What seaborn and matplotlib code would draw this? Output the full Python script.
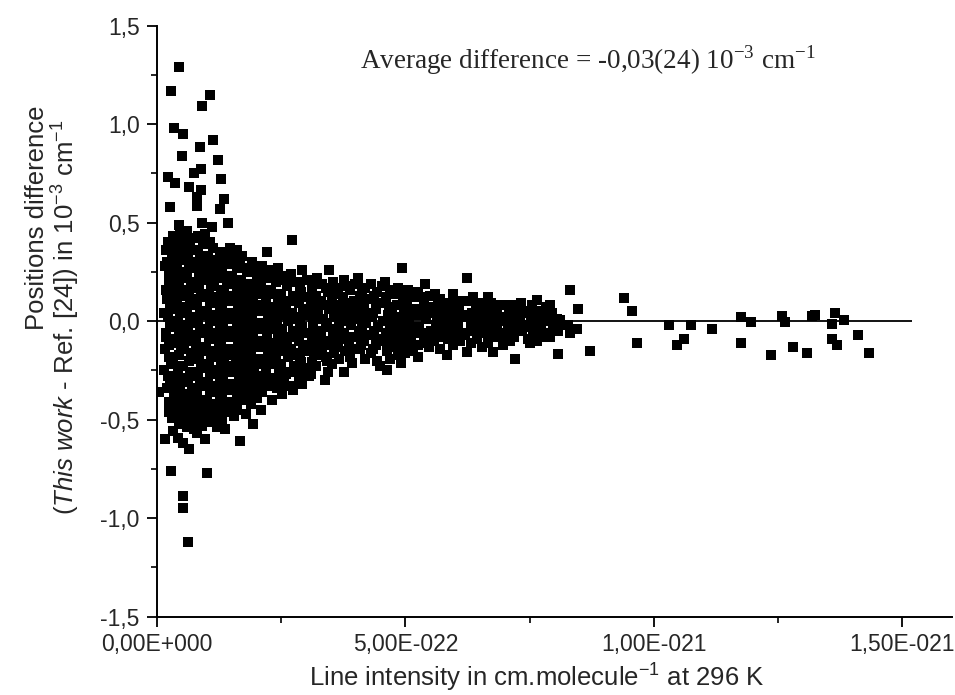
import numpy as np
import pandas as pd
import matplotlib
matplotlib.use("Agg")
import matplotlib.pyplot as plt
import seaborn as sns
from matplotlib.ticker import FixedLocator, FixedFormatter, MultipleLocator

# ---- data (line intensity in units of 1e-22 cm/molecule, position difference in 1e-3 cm-1) ----
hi_x = [0.45, 0.29, 1.07, 0.91, 0.34, 0.53, 1.12, 0.87, 0.50, 1.23, 0.88, 0.74, 0.23, 1.29, 0.36,
        0.65, 0.88, 0.81, 1.35, 0.26, 0.80, 1.27, 1.42, 0.45, 0.60, 0.90, 1.10, 0.83, 0.96, 0.61,
        1.47, 1.62, 2.21]
hi_y = [1.29, 1.17, 1.15, 1.09, 0.98, 0.95, 0.92, 0.885, 0.84, 0.82, 0.77, 0.75, 0.73, 0.72, 0.70,
        0.68, 0.665, 0.63, 0.62, 0.58, 0.585, 0.57, 0.50, 0.49, 0.46, 0.50, 0.48, 0.43, 0.44, 0.37,
        0.37, 0.36, 0.35]

lo_x = [0.16, 0.43, 0.53, 0.64, 0.97, 1.37, 1.67, 1.94, 0.28, 1.01, 0.53, 0.53, 0.62, 0.04, 0.25,
        0.45, 0.60, 0.75, 0.90, 1.05, 1.20, 1.30]
lo_y = [-0.60, -0.595, -0.62, -0.65, -0.60, -0.55, -0.61, -0.52, -0.76, -0.77, -0.89, -0.95, -1.12,
        -0.36, -0.41, -0.52, -0.54, -0.55, -0.53, -0.51, -0.54, -0.50]

core_x = [
    0.16, 0.18, 0.15, 0.19, 0.17, 0.14, 0.18,
    0.22, 0.20, 0.24, 0.21, 0.23, 0.19, 0.25, 0.22, 0.20, 0.24,
    0.32, 0.30, 0.34, 0.31, 0.33, 0.29, 0.35, 0.32, 0.30, 0.34, 0.31, 0.33,
    0.42, 0.40, 0.44, 0.41, 0.43, 0.39, 0.45, 0.42, 0.40, 0.44,
    0.52, 0.50, 0.54, 0.51, 0.53, 0.49, 0.55, 0.52, 0.50, 0.54, 0.51,
    0.62, 0.60, 0.64, 0.61, 0.63, 0.59, 0.65, 0.62, 0.60, 0.64, 0.61,
    0.72, 0.70, 0.74, 0.71, 0.73, 0.69, 0.75, 0.72, 0.70, 0.74, 0.71,
    0.82, 0.80, 0.84, 0.81, 0.83, 0.79, 0.85, 0.82, 0.80, 0.84, 0.81,
    0.92, 0.90, 0.94, 0.91, 0.93, 0.89, 0.95, 0.92, 0.90, 0.94, 0.91,
    1.02, 1.00, 1.04, 1.01, 1.03, 0.99, 1.05, 1.02, 1.00, 1.04,
    1.12, 1.10, 1.14, 1.11, 1.13, 1.09, 1.15, 1.12, 1.10, 1.14,
    1.22, 1.20, 1.24, 1.21, 1.23, 1.19, 1.25, 1.22, 1.20, 1.24,
    1.32, 1.30, 1.34, 1.31, 1.33, 1.29, 1.35, 1.32, 1.30, 1.34,
    1.42, 1.40, 1.44, 1.41, 1.43, 1.39, 1.45, 1.42, 1.40,
    1.52, 1.50, 1.54, 1.51, 1.53, 1.49, 1.55, 1.52, 1.50, 1.54,
    1.62, 1.60, 1.64, 1.61, 1.63, 1.59, 1.65, 1.62, 1.60,
    1.72, 1.70, 1.74, 1.71, 1.73, 1.69, 1.75, 1.72, 1.70,
    1.82, 1.80, 1.84, 1.81, 1.83, 1.79, 1.85, 1.82, 1.80,
    1.92, 1.90, 1.94, 1.91, 1.93, 1.89, 1.95, 1.92, 1.90,
    2.02, 2.00, 2.04, 2.01, 2.03, 1.99, 2.05, 2.02,
    2.12, 2.10, 2.14, 2.11, 2.13, 2.09, 2.15, 2.12, 2.10,
    2.22, 2.20, 2.24, 2.21, 2.23, 2.19, 2.25,
    2.32, 2.30, 2.34, 2.31, 2.33, 2.29, 2.35, 2.31,
    2.43, 2.40, 2.44, 2.41, 2.43, 2.39, 2.45, 2.42,
    2.52, 2.50, 2.54, 2.51, 2.53, 2.49, 2.55, 2.52,
    2.62, 2.60, 2.64, 2.61, 2.63, 2.59, 2.65,
    2.71, 2.70, 2.74, 2.71, 2.73, 2.69, 2.75, 2.74,
    2.82, 2.80, 2.84, 2.81, 2.83, 2.79, 2.85,
    2.91, 2.90, 2.94, 2.91, 2.93, 2.89, 2.91,
    3.02, 3.00, 3.04, 3.01, 3.03, 2.99, 3.05,
]
core_y = [
    0.28, 0.16, 0.04, -0.06, -0.14, -0.25, 0.36,
    0.40, 0.30, 0.20, 0.11, 0.02, -0.08, -0.18, -0.28, -0.34, -0.46,
    0.43, 0.34, 0.24, 0.14, 0.06, -0.03, -0.11, -0.21, -0.31, -0.39, -0.49, -0.56,
    0.38, 0.29, 0.19, 0.09, 0.00, -0.09, -0.17, -0.26, -0.36, -0.44,
    0.41, 0.31, 0.22, 0.13, 0.04, -0.05, -0.14, -0.23, -0.31, -0.40, -0.48,
    0.33, 0.25, 0.16, 0.07, -0.02, -0.10, -0.20, -0.29, -0.37, -0.45, -0.53,
    0.42, 0.30, 0.20, 0.11, 0.02, -0.07, -0.16, -0.26, -0.34, -0.43, -0.50,
    0.36, 0.27, 0.17, 0.08, -0.01, -0.11, -0.19, -0.28, -0.38, -0.46, -0.57,
    0.39, 0.29, 0.21, 0.12, 0.03, -0.06, -0.15, -0.24, -0.33, -0.41, -0.49,
    0.33, 0.24, 0.14, 0.05, -0.04, -0.13, -0.22, -0.31, -0.40, -0.47,
    0.37, 0.27, 0.18, 0.09, 0.00, -0.09, -0.18, -0.27, -0.35, -0.44,
    0.31, 0.22, 0.12, 0.03, -0.06, -0.15, -0.25, -0.33, -0.42, -0.49,
    0.35, 0.26, 0.16, 0.07, -0.02, -0.11, -0.20, -0.29, -0.38, -0.46,
    0.29, 0.19, 0.10, 0.01, -0.08, -0.17, -0.26, -0.35, -0.43,
    0.32, 0.23, 0.13, 0.04, -0.05, -0.14, -0.23, -0.32, -0.41, -0.48,
    0.27, 0.17, 0.08, -0.01, -0.10, -0.19, -0.28, -0.37, -0.45,
    0.33, 0.21, 0.12, 0.03, -0.06, -0.15, -0.24, -0.33, -0.40,
    0.25, 0.15, 0.06, -0.03, -0.12, -0.21, -0.30, -0.38, -0.47,
    0.30, 0.19, 0.10, 0.01, -0.08, -0.17, -0.26, -0.35, -0.42,
    0.23, 0.14, 0.05, -0.04, -0.13, -0.22, -0.31, -0.39,
    0.28, 0.18, 0.08, -0.01, -0.10, -0.19, -0.28, -0.36, -0.45,
    0.22, 0.12, 0.03, -0.06, -0.15, -0.24, -0.33,
    0.26, 0.16, 0.07, -0.02, -0.11, -0.20, -0.29, -0.40,
    0.27, 0.20, 0.10, 0.01, -0.08, -0.17, -0.26, -0.34,
    0.23, 0.14, 0.05, -0.04, -0.13, -0.22, -0.30, -0.37,
    0.18, 0.09, 0.00, -0.09, -0.18, -0.27, -0.33,
    0.41, 0.24, 0.13, 0.04, -0.05, -0.14, -0.23, -0.35,
    0.20, 0.11, 0.02, -0.07, -0.16, -0.25, -0.31,
    0.26, 0.15, 0.06, -0.03, -0.12, -0.21, -0.32,
    0.21, 0.12, 0.03, -0.06, -0.15, -0.24, -0.28,
]

fill_x = [
    0.27, 0.25, 0.28, 0.26, 0.27, 0.25, 0.28, 0.26, 0.27,
    0.47, 0.45, 0.48, 0.46, 0.47, 0.45, 0.48, 0.46, 0.47, 0.45, 0.48,
    0.67, 0.65, 0.68, 0.66, 0.67, 0.65, 0.68, 0.66, 0.67, 0.65,
    0.87, 0.85, 0.88, 0.86, 0.87, 0.85, 0.88, 0.86, 0.87, 0.85,
    1.07, 1.05, 1.08, 1.06, 1.07, 1.05, 1.08, 1.06, 1.07, 1.05,
    1.27, 1.25, 1.28, 1.26, 1.27, 1.25, 1.28, 1.26, 1.27,
    1.47, 1.45, 1.48, 1.46, 1.47, 1.45, 1.48, 1.46, 1.47,
    1.67, 1.65, 1.68, 1.66, 1.67, 1.65, 1.68, 1.66,
    1.87, 1.85, 1.88, 1.86, 1.87, 1.85, 1.88, 1.86,
    2.07, 2.05, 2.08, 2.06, 2.07, 2.05, 2.08,
    2.27, 2.25, 2.28, 2.26, 2.27, 2.25, 2.28,
    2.47, 2.45, 2.48, 2.46, 2.47, 2.45, 2.48,
    2.67, 2.65, 2.68, 2.66, 2.67, 2.65,
    2.87, 2.85, 2.88, 2.86, 2.87, 2.85,
    3.17, 3.15, 3.18, 3.16,
    3.40, 3.38, 3.41, 3.39, 3.40,
    3.60, 3.58, 3.61, 3.59,
    3.83, 3.81, 3.84, 3.82,
    4.12, 4.10, 4.13, 4.11,
    4.36, 4.34, 4.37, 4.35,
    4.68, 4.66, 4.69, 4.67, 4.68,
    5.00, 4.98, 5.01, 4.99,
    5.32, 5.30, 5.33,
    5.65, 5.63, 5.66,
    6.00, 5.98, 6.01,
    6.36, 6.34, 6.37,
    6.72, 6.70, 6.73,
    7.14, 7.12, 7.15,
    7.50, 7.48, 7.51,
    7.90, 7.88, 7.91,
]
fill_y = [
    0.36, 0.25, 0.16, 0.07, -0.02, -0.12, -0.22, -0.32, -0.43,
    0.44, 0.34, 0.24, 0.15, 0.05, -0.05, -0.14, -0.23, -0.32, -0.41, -0.50,
    0.38, 0.28, 0.19, 0.09, 0.00, -0.10, -0.19, -0.28, -0.38, -0.47,
    0.32, 0.22, 0.13, 0.04, -0.05, -0.15, -0.24, -0.33, -0.42, -0.51,
    0.40, 0.29, 0.19, 0.10, 0.01, -0.09, -0.18, -0.27, -0.36, -0.45,
    0.34, 0.24, 0.15, 0.06, -0.04, -0.13, -0.22, -0.31, -0.40,
    0.30, 0.21, 0.11, 0.02, -0.07, -0.16, -0.25, -0.34, -0.44,
    0.28, 0.19, 0.10, 0.00, -0.09, -0.18, -0.27, -0.36,
    0.27, 0.17, 0.08, -0.02, -0.11, -0.20, -0.29, -0.40,
    0.25, 0.16, 0.06, -0.03, -0.12, -0.21, -0.30,
    0.24, 0.14, 0.05, -0.04, -0.13, -0.22, -0.31,
    0.21, 0.12, 0.03, -0.06, -0.15, -0.24, -0.32,
    0.20, 0.10, 0.01, -0.08, -0.17, -0.26,
    0.18, 0.09, -0.01, -0.10, -0.19, -0.27,
    0.13, 0.03, -0.06, -0.16,
    0.17, 0.08, -0.01, -0.10, -0.18,
    0.14, 0.05, -0.04, -0.13,
    0.18, 0.09, 0.00, -0.09,
    0.15, 0.06, -0.03, -0.12,
    0.13, 0.04, -0.05, -0.14,
    0.16, 0.07, -0.02, -0.11, -0.19,
    0.11, 0.02, -0.07, -0.16,
    0.12, 0.03, -0.06,
    0.09, 0.00, -0.08,
    0.10, 0.01, -0.07,
    0.12, 0.04, -0.05,
    0.09, 0.00, -0.08,
    0.08, 0.01, -0.06,
    0.05, -0.02, -0.11,
    0.08, 0.01, -0.08,
]

gap_x = [3.27, 3.50, 3.71, 3.93, 4.24, 4.47, 4.80, 5.11, 5.44, 5.77, 6.13, 6.48, 6.84, 7.27, 7.70,
         3.28, 3.51, 3.72, 3.94, 4.25, 4.48, 4.81, 5.12, 5.45, 5.78, 6.14, 6.49, 6.85, 7.28, 7.69]
gap_y = [0.08, 0.06, 0.04, 0.05, 0.03, 0.09, 0.02, 0.05, 0.06, 0.04, 0.03, 0.05, 0.03, 0.04, 0.02,
         -0.12, -0.11, -0.06, -0.14, -0.07, -0.10, -0.06, -0.09, -0.11, -0.04, -0.06, -0.03, -0.05,
         -0.02, -0.05]

band_x = [
    3.12, 3.10, 3.14, 3.11, 3.11, 3.09,
    3.22, 3.20, 3.24, 3.21, 3.23, 3.19,
    3.32, 3.30, 3.34, 3.31, 3.33, 3.38,
    3.46, 3.44, 3.47, 3.43, 3.46, 3.42, 3.45,
    3.55, 3.53, 3.57, 3.54, 3.56, 3.52,
    3.65, 3.63, 3.67, 3.64, 3.66,
    3.77, 3.75, 3.79, 3.76, 3.78, 3.77,
    3.88, 3.86, 3.90, 3.87, 3.89,
    3.98, 3.96, 4.00, 3.97, 3.93,
    4.05, 4.08, 4.10, 4.07, 4.09,
    4.18, 4.16, 4.20, 4.17, 4.19,
    4.30, 4.28, 4.32, 4.29, 4.31,
    4.42, 4.40, 4.44, 4.41, 4.43,
    4.52, 4.50, 4.54, 4.51, 4.49,
    4.59, 4.60, 4.64, 4.61, 4.63, 4.62,
    4.75, 4.73, 4.77, 4.74,
    4.85, 4.83, 4.87, 4.84, 4.86,
    4.94, 4.95, 4.97, 4.93, 4.96, 4.92,
    5.06, 5.04, 5.08, 5.05,
    5.16, 5.14, 5.18, 5.15,
    5.26, 5.24, 5.28, 5.25, 5.26,
    5.39, 5.37, 5.41, 5.38,
    5.49, 5.47, 5.51, 5.48,
    5.59, 5.57, 5.61, 5.58,
    5.70, 5.68, 5.72, 5.69,
    5.83, 5.81, 5.85, 5.83,
    5.96, 5.94, 5.98, 5.95,
    6.07, 6.05, 6.09,
    6.24, 6.20, 6.22, 6.19, 6.23,
    6.30, 6.32, 6.31,
    6.42, 6.40, 6.44,
    6.55, 6.53, 6.57, 6.54,
    6.67, 6.65, 6.69, 6.66,
    6.77, 6.79, 6.77,
    6.88, 6.86, 6.90,
    6.97, 7.00, 6.98, 6.96,
    7.08, 7.06, 7.10,
    7.20, 7.22, 7.19, 7.21,
    7.32, 7.30, 7.34,
    7.44, 7.42, 7.46,
    7.55, 7.53, 7.57,
    7.64, 7.66, 7.62, 7.65,
    7.75, 7.73, 7.77,
    7.83, 7.85, 7.86,
    7.95, 7.97,
    8.04, 8.06, 8.06,
    8.11, 8.13,
]
band_y = [
    0.17, 0.08, -0.01, -0.10, -0.21, -0.27,
    0.22, 0.13, 0.04, -0.05, -0.14, -0.23,
    0.19, 0.10, 0.01, -0.08, -0.17, -0.30,
    0.26, 0.15, 0.06, -0.03, -0.12, -0.20, -0.26,
    0.20, 0.11, 0.02, -0.07, -0.16, -0.22,
    0.17, 0.08, -0.01, -0.10, -0.19,
    0.21, 0.12, 0.03, -0.06, -0.15, -0.26,
    0.16, 0.07, -0.02, -0.11, -0.18,
    0.19, 0.10, 0.01, -0.08, -0.215,
    0.22, 0.13, 0.04, -0.05, -0.14,
    0.17, 0.08, -0.01, -0.10, -0.19,
    0.19, 0.11, 0.02, -0.07, -0.16,
    0.15, 0.06, -0.03, -0.12, -0.20,
    0.18, 0.09, 0.00, -0.09, -0.23,
    0.20, 0.12, 0.03, -0.06, -0.15, -0.25,
    0.14, 0.05, -0.04, -0.13,
    0.17, 0.08, -0.01, -0.10, -0.17,
    0.27, 0.13, 0.04, -0.05, -0.14, -0.215,
    0.16, 0.07, -0.02, -0.11,
    0.12, 0.03, -0.06, -0.15,
    0.15, 0.06, -0.03, -0.12, -0.18,
    0.19, 0.10, 0.01, -0.08,
    0.13, 0.04, -0.05, -0.13,
    0.14, 0.07, -0.02, -0.10,
    0.11, 0.02, -0.07, -0.14,
    0.09, 0.00, -0.09, -0.17,
    0.14, 0.05, -0.04, -0.12,
    0.08, -0.01, -0.10,
    0.22, 0.10, 0.02, -0.07, -0.155,
    0.10, -0.03, -0.11,
    0.07, -0.01, -0.09,
    0.09, 0.01, -0.06, -0.13,
    0.12, 0.04, -0.04, -0.11,
    0.06, -0.02, -0.155,
    0.08, 0.00, -0.08,
    0.08, 0.02, -0.06, -0.12,
    0.05, -0.03, -0.10,
    0.06, -0.01, -0.08, -0.19,
    0.09, 0.02, -0.05,
    0.04, -0.03, -0.09,
    0.08, 0.00, -0.07,
    0.107, 0.03, -0.04, -0.10,
    0.05, -0.02, -0.08,
    0.07, 0.00, -0.06,
    0.04, -0.03,
    0.01, -0.05, -0.165,
    0.005, -0.02,
]

tail_x = [8.31, 8.31, 8.28, 8.48, 8.46, 8.71, 9.40, 9.56, 9.65, 10.31, 10.47, 10.61, 10.74, 11.17,
          11.76, 11.95, 11.76, 12.36, 12.57, 12.64, 12.80, 13.08, 13.19, 13.24, 13.64, 13.59, 13.83,
          13.59, 13.69, 14.10, 14.33]
tail_y = [0.157, -0.06, -0.02, 0.06, -0.04, -0.15, 0.117, 0.05, -0.11, -0.02, -0.12, -0.09, -0.02,
          -0.04, 0.02, -0.005, -0.11, -0.17, 0.025, -0.005, -0.13, -0.16, 0.025, 0.03, 0.04, -0.015,
          0.005, -0.09, -0.12, -0.07, -0.16]

x_ticks = [0.0, 5e-22, 1e-21, 1.5e-21]
x_tick_labels = ["0,00E+000", "5,00E-022", "1,00E-021", "1,50E-021"]
y_ticks = [-1.5, -1.0, -0.5, 0.0, 0.5, 1.0, 1.5]
y_tick_labels = ["-1,5", "-1,0", "-0,5", "0,0", "0,5", "1,0", "1,5"]

# ---- build frame ----
scale = 1e-22
df = pd.DataFrame({
    "intensity": np.array(hi_x + lo_x + core_x + fill_x + gap_x + band_x + tail_x) * scale,
    "diff": np.array(hi_y + lo_y + core_y + fill_y + gap_y + band_y + tail_y),
})

sns.set_style("ticks")
plt.rcParams["font.family"] = ["Liberation Sans", "DejaVu Sans"]
plt.rcParams["mathtext.fontset"] = "custom"
plt.rcParams["mathtext.rm"] = "Liberation Sans"
plt.rcParams["mathtext.it"] = "Liberation Sans:italic"

fig = plt.figure(figsize=(9.55, 6.95), dpi=100)
ax = fig.add_axes([0.1644, 0.1129, 0.8325, 0.8501])

ax.hlines(0, 0, 1.52e-21, color="black", lw=1.3, zorder=1)
sns.scatterplot(data=df, x="intensity", y="diff", marker="s", color="black",
                s=58, linewidth=0, ax=ax, zorder=2, legend=False)

ax.set_xlim(0, 1.6e-21)
ax.set_ylim(-1.5, 1.5)
ax.xaxis.set_major_locator(FixedLocator(x_ticks))
ax.xaxis.set_major_formatter(FixedFormatter(x_tick_labels))
ax.xaxis.set_minor_locator(MultipleLocator(2.5e-22))
ax.yaxis.set_major_locator(FixedLocator(y_ticks))
ax.yaxis.set_major_formatter(FixedFormatter(y_tick_labels))
ax.yaxis.set_minor_locator(MultipleLocator(0.25))

for s in ["top", "right"]:
    ax.spines[s].set_visible(False)
for s in ["left", "bottom"]:
    ax.spines[s].set_linewidth(1.4)
    ax.spines[s].set_color("black")

ax.tick_params(which="major", length=7.5, width=1.3, labelsize=16.5, color="black")
ax.tick_params(axis="x", which="major", pad=4)
ax.tick_params(axis="y", which="major", pad=5)
ax.tick_params(which="minor", length=4.5, width=1.2, color="black")
ax.set_xlabel("")
ax.set_ylabel("")

fig.text(537 / 955, 1 - 678 / 695, "Line intensity in cm.molecule$^{\\mathregular{-1}}$ at 296 K",
         ha="center", va="center", fontsize=18.5)
fig.text(37 / 955, 1 - 218 / 695, "Positions difference", rotation=90,
         ha="center", va="center", fontsize=18.5)
fig.text(66 / 955, 1 - 317 / 695,
         "($\\mathit{This\\ work}$ - Ref. [24]) in 10$^{\\mathregular{-3}}$ cm$^{\\mathregular{-1}}$",
         rotation=90, ha="center", va="center", fontsize=18.5)
fig.text(588 / 955, 1 - 60 / 695,
         "Average difference = -0,03(24) 10$^{\\mathregular{-3}}$ cm$^{\\mathregular{-1}}$",
         ha="center", va="center", fontsize=19.5, family=["Liberation Serif", "DejaVu Serif"])

fig.savefig("out.png", dpi=100)
